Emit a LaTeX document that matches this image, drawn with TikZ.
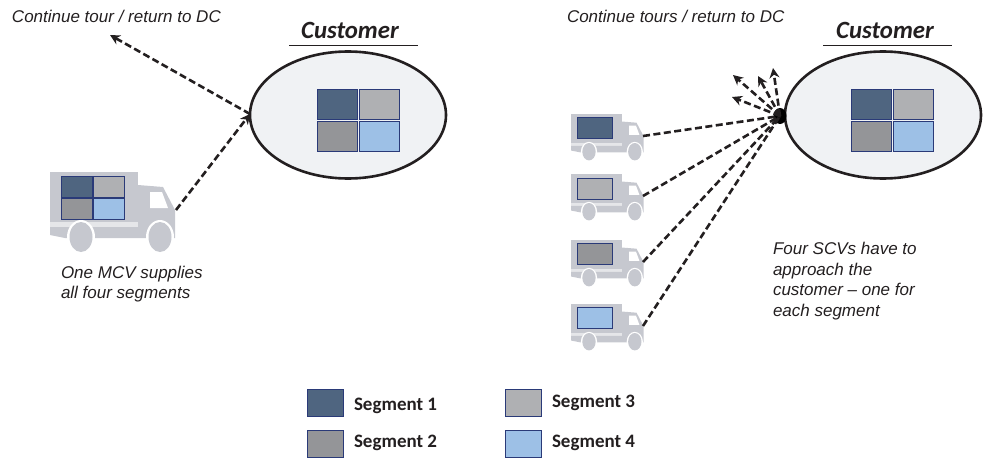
\documentclass[tikz,border=0pt]{standalone}
\usepackage{fontspec}
\setmainfont{Liberation Sans}
\newfontfamily\carl{Carlito}
\usetikzlibrary{arrows.meta,shapes.geometric}
\definecolor{segA}{HTML}{4F6580}
\definecolor{segB}{HTML}{949598}
\definecolor{segC}{HTML}{AFB0B3}
\definecolor{segD}{HTML}{9DC0E6}
\definecolor{segedge}{HTML}{2A3A78}
\definecolor{truckc}{HTML}{C6C8CF}
\definecolor{custfill}{HTML}{F0F2F4}
\definecolor{ink}{HTML}{231F20}
\tikzset{
  x=1pt,y=-1pt,
  every node/.style={inner sep=0pt,outer sep=0pt},
  note/.style={font=\fontsize{17}{20.5}\selectfont\itshape,text=ink,anchor=west,align=left},
  custlabel/.style={font=\carl\fontsize{24.8}{26}\selectfont\bfseries\itshape,text=ink},
  leglabel/.style={font=\carl\fontsize{19}{20}\selectfont\bfseries,text=ink,anchor=west},
  customer/.style={ellipse,draw=ink,line width=2.6pt,fill=custfill,minimum width=196pt,minimum height=127pt},
  dashline/.style={draw=ink,line width=2.6pt,dash pattern=on 7pt off 3.5pt},
  dasharrow/.style={dashline,-{Stealth[length=10pt,width=10pt]}},
  pics/truck/.style={code={
    \fill[truckc] (0,0) rectangle (88,50);
    \fill[truckc!45] (0,50) rectangle (88,55);
    \fill[truckc] (88,13) -- (113,15) -- (125,38) -- (125,66) -- (15,66) -- (0,63) -- (0,55) -- (88,55) -- cycle;
    \fill[white] (100,20) -- (112,20) -- (118,36) -- (100,36) -- cycle;
    \fill[white] (31,65) ellipse [x radius=14,y radius=17];
    \fill[white] (110,65) ellipse [x radius=14,y radius=17];
    \fill[truckc] (31,65) ellipse [x radius=11.5,y radius=15];
    \fill[truckc] (110,65) ellipse [x radius=11.5,y radius=15];
  }}
}
\newcommand{\segcell}[6]{\node[rectangle,draw=segedge,line width=0.8pt,fill=#2,minimum width=#5pt,minimum height=#6pt] (#1) at (#3,#4) {};}
\begin{document}
\begin{tikzpicture}
\useasboundingbox (0,0) rectangle (985,460);
% left customer
\node[customer] (custL) at (348,115) {};
\segcell{la}{segA}{337}{104}{40}{30}
\segcell{lc}{segC}{379}{104}{40}{30}
\segcell{lb}{segB}{337}{136}{40}{30}
\segcell{ld}{segD}{379}{136}{40}{30}
\node[custlabel] (titleL) at (350,30) {Customer};
\draw[ink,line width=0.9pt] (289,45) -- (418,45);
% right customer
\node[customer] (custR) at (883,115) {};
\segcell{ra}{segA}{871}{104}{40}{30}
\segcell{rc}{segC}{913}{104}{40}{30}
\segcell{rb}{segB}{871}{136}{40}{30}
\segcell{rd}{segD}{913}{136}{40}{30}
\node[custlabel] (titleR) at (885,30) {Customer};
\draw[ink,line width=0.9pt] (823,45) -- (952,45);
% big truck
\pic at (50,172) {truck};
\segcell{ba}{segA}{76.5}{186.5}{31}{21}
\segcell{bc}{segC}{108.5}{186.5}{31}{21}
\segcell{bb}{segB}{76.5}{208.5}{31}{21}
\segcell{bd}{segD}{108.5}{208.5}{31}{21}
% small trucks
\pic[scale=0.58] at (571,114) {truck};
\pic[scale=0.58] at (571,174) {truck};
\pic[scale=0.58] at (571,240) {truck};
\pic[scale=0.58] at (571,304) {truck};
\segcell{sa}{segA}{594.5}{127.5}{35}{21}
\segcell{sc}{segC}{594.5}{188.5}{35}{21}
\segcell{sb}{segB}{594.5}{253.5}{35}{21}
\segcell{sd}{segD}{594.5}{317.5}{35}{21}
% left connectors
\coordinate (frontB) at (176,210);
\coordinate (outL) at (110,35);
\coordinate (hitL) at (250,114);
\draw[dasharrow] (frontB) -- (hitL);
\draw[dasharrow] (hitL) -- (outL);
% right connectors
\node[ellipse,fill=black,minimum width=13pt,minimum height=16pt] (hub) at (780,116) {};
\coordinate (o1) at (732,97);
\coordinate (o2) at (733,75);
\coordinate (o3) at (758,76);
\coordinate (o4) at (773,68);
\foreach \t in {o1,o2,o3,o4} \draw[dasharrow] (hub.center) -- (\t);
\coordinate (f1) at (643,136);
\coordinate (f2) at (643,196);
\coordinate (f3) at (643,262);
\coordinate (f4) at (643,326);
\foreach \t in {f1,f2,f3,f4} \draw[dashline] (\t) -- (hub.center);
% notes
\node[note] (n1) at (12,16) {Continue tour / return to DC};
\node[note] (n2) at (567,16) {Continue tours / return to DC};
\node[note] (n3) at (61,284) {One MCV supplies\\all four segments};
\node[note] (n4) at (773,281) {Four SCVs have to\\approach the\\customer – one for\\each segment};
% legend
\segcell{lga}{segA}{325}{402.5}{36}{27}
\segcell{lgb}{segB}{325}{443.5}{36}{27}
\segcell{lgc}{segC}{523}{402.5}{36}{27}
\segcell{lgd}{segD}{523}{443.5}{36}{27}
\node[leglabel] (l1) at (354,406) {Segment 1};
\node[leglabel] (l2) at (354,443) {Segment 2};
\node[leglabel] (l3) at (552,403) {Segment 3};
\node[leglabel] (l4) at (552,443) {Segment 4};
\end{tikzpicture}
\end{document}
